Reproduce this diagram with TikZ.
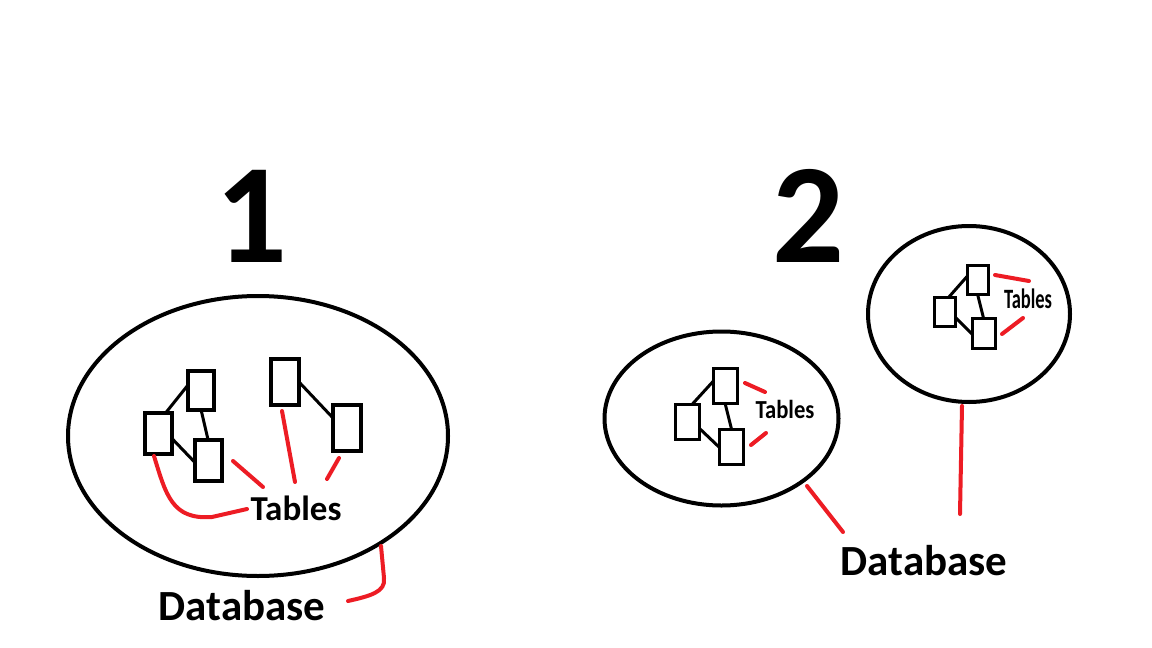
\documentclass[tikz,border=0pt]{standalone}
\usepackage{fontspec}
\setmainfont{Carlito}
\usetikzlibrary{shapes.geometric,calc}
\definecolor{redl}{RGB}{237,28,36}
\tikzset{
  tbl/.style={draw=black, rectangle, inner sep=0pt, outer sep=0pt, line width=#1},
  tbl/.default=4pt,
  dbell/.style={draw=black, ellipse, inner sep=0pt, outer sep=0pt, line width=4pt},
  link/.style={draw=black, line width=3pt},
  redline/.style={draw=redl, line width=4pt, line cap=round},
  lbl/.style={inner sep=0pt, anchor=base, font=\bfseries\fontsize{#1}{#1}\selectfont},
}
\begin{document}
\begin{tikzpicture}[x=1pt,y=-1pt]
\useasboundingbox (0,0) rectangle (1152,648);
\fill[white] (0,0) rectangle (1152,648);

% ---------- Titles
\node[lbl=142] (one) at (251,262) {1};
\node[lbl=142] (two) at (808,262) {2};

% ---------- Picture 1
\node[dbell, minimum width=380pt, minimum height=280pt] (E1) at (258,436) {};
\node[tbl, minimum width=26pt, minimum height=39pt] (lA) at (201,390) {};
\node[tbl, minimum width=27pt, minimum height=41pt] (lB) at (158,433) {};
\node[tbl, minimum width=27pt, minimum height=41pt] (lC) at (208,460) {};
\node[tbl, minimum width=28pt, minimum height=46pt] (lD) at (285,382) {};
\node[tbl, minimum width=28pt, minimum height=46pt] (lE) at (347,428) {};
\draw[link] ($(lB.north)+(8,0)$) -- ($(lA.west)+(0,-5)$);
\draw[link] (lA.south) -- (lC.north);
\draw[link] ($(lB.east)+(0,5)$) -- ($(lC.west)+(0,2)$);
\draw[link] ($(lD.east)+(0,0)$) -- ($(lE.west)+(0,-10)$);

\node[lbl=35] (lT) at (296,520) {Tables};
\node[lbl=43] (lDB) at (242,620) {Database};

\coordinate (r1a) at (154,456);
\coordinate (r1b) at (247,509);
\coordinate (r2a) at (233,461);
\coordinate (r2b) at (263,487);
\coordinate (r3a) at (282,411);
\coordinate (r3b) at (295,482);
\coordinate (r4a) at (339,458);
\coordinate (r4b) at (327,479);
\coordinate (r5a) at (381,546);
\coordinate (r5b) at (348,601);
\draw[redline] (r1a) .. controls (166,495) and (172,520) .. (212,517) -- (r1b);
\draw[redline] (r2a) -- (r2b);
\draw[redline] (r3a) -- (r3b);
\draw[redline] (r4a) -- (r4b);
\draw[redline] (r5a) -- (384,578) .. controls (386,592) and (370,596) .. (r5b);

% ---------- Picture 2, lower database
\node[dbell, minimum width=234pt, minimum height=174pt] (E2) at (721.5,418.5) {};
\node[tbl=3pt, minimum width=24pt, minimum height=35pt] (rA) at (725,385.5) {};
\node[tbl=3pt, minimum width=24pt, minimum height=35pt] (rB) at (687,422) {};
\node[tbl=3pt, minimum width=24pt, minimum height=35pt] (rC) at (731.5,446.5) {};
\draw[link] ($(rB.north)+(5,0)$) -- ($(rA.west)+(0,-4)$);
\draw[link] (rA.south) -- ($(rC.north)+(0,0)$);
\draw[link] ($(rB.east)+(0,6)$) -- ($(rC.west)+(0,1)$);
\node[lbl=26] (rT) at (785,418) {\scalebox{0.87}[1]{Tables}};
\coordinate (s1a) at (745,383);
\coordinate (s1b) at (765,392);
\coordinate (s2a) at (751,445);
\coordinate (s2b) at (766,433);
\draw[redline] (s1a) -- (s1b);
\draw[redline] (s2a) -- (s2b);

% ---------- Picture 2, upper database
\node[dbell, minimum width=202pt, minimum height=176pt] (E3) at (969,314) {};
\node[tbl=3pt, minimum width=21pt, minimum height=29pt] (uA) at (977.5,279.5) {};
\node[tbl=3pt, minimum width=21pt, minimum height=29pt] (uB) at (944.5,312) {};
\node[tbl=3pt, minimum width=23pt, minimum height=30pt] (uC) at (983.5,333) {};
\draw[link] ($(uB.north)+(4,0)$) -- ($(uA.west)+(0,-3)$);
\draw[link] (uA.south) -- (uC.north);
\draw[link] ($(uB.east)+(0,5)$) -- ($(uC.west)+(0,1)$);
\node[lbl=28] (uT) at (1028,308) {\scalebox{0.66}[1]{Tables}};
\coordinate (t1a) at (995,275);
\coordinate (t1b) at (1029,281);
\coordinate (t2a) at (1002,334);
\coordinate (t2b) at (1023,318);
\draw[redline] (t1a) -- (t1b);
\draw[redline] (t2a) -- (t2b);

% ---------- Database label 2
\node[lbl=43] (rDB) at (924,575) {Database};
\coordinate (d1a) at (807,486);
\coordinate (d1b) at (843,532);
\coordinate (d2a) at (962,406);
\coordinate (d2b) at (960,514);
\draw[redline] (d1a) -- (d1b);
\draw[redline] (d2a) -- (d2b);
\end{tikzpicture}
\end{document}
